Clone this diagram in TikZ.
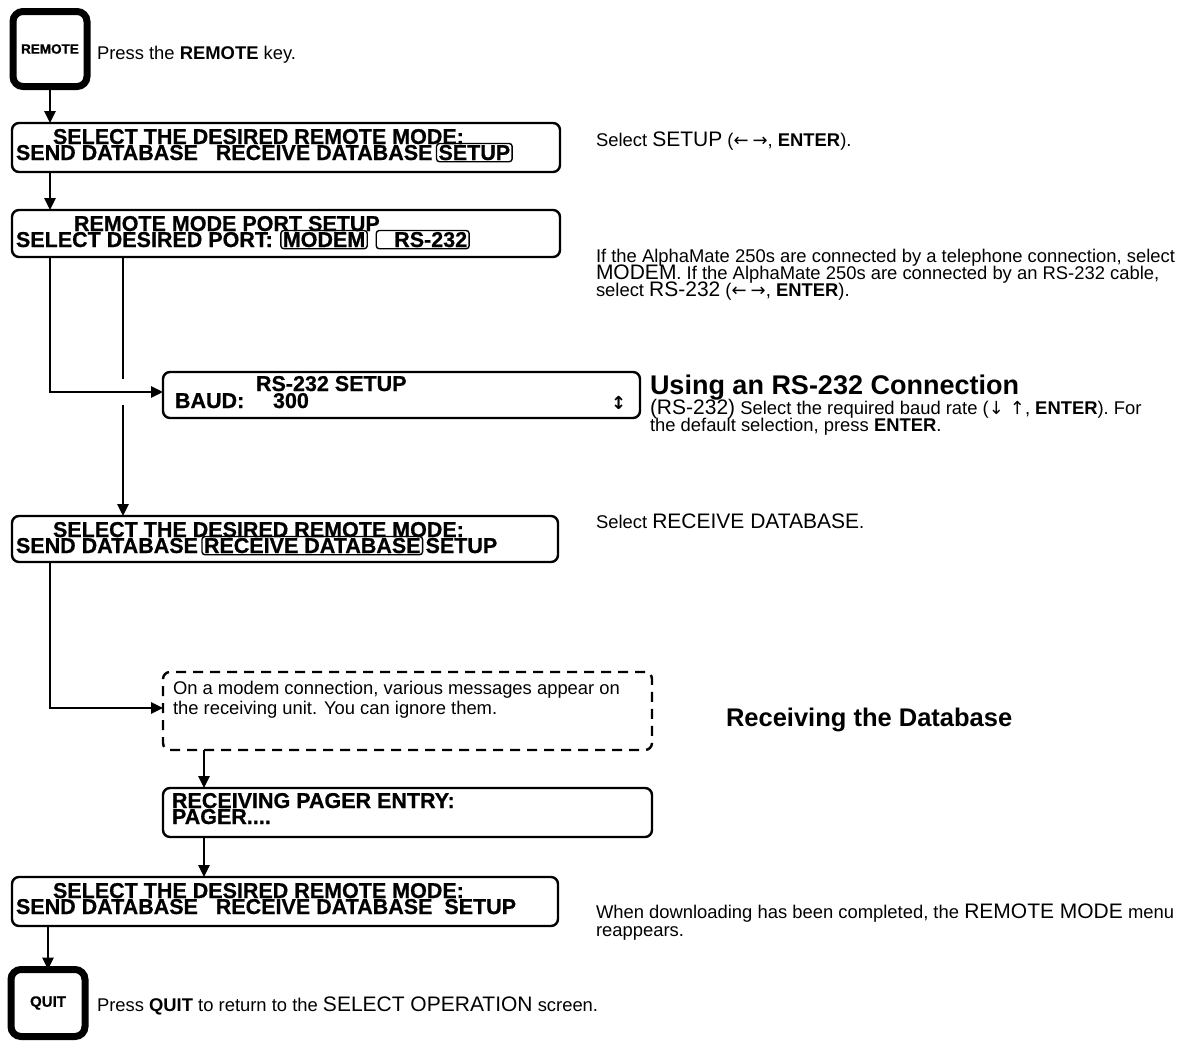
\documentclass[tikz,border=0pt]{standalone}
\usepackage{fontspec}
\setmainfont{Liberation Sans}
\newfontfamily\lcdfont{Liberation Sans Bold}[FakeBold=0.7]
\newfontfamily\arrowfont{DejaVu Sans}
\usetikzlibrary{positioning}
\usetikzlibrary{calc}
\usetikzlibrary{arrows.meta}

\tikzset{
	every node/.style={inner sep=0pt,outer sep=0pt},
	screen/.style={draw,line width=2.4pt,rounded corners=7pt,anchor=north west},
	dashbox/.style={screen,dash pattern=on 10pt off 7pt},
	lcd/.style={anchor=base west,font=\lcdfont\fontsize{21.5}{16}\selectfont},
	pick/.style={draw,line width=1.4pt,rounded corners=3pt,inner xsep=2pt,inner ysep=1.5pt,anchor=base west,font=\lcdfont\fontsize{21.5}{16}\selectfont},
	keycap/.style={draw,line width=7pt,rounded corners=10pt,minimum width=74pt,minimum height=75pt,font=\lcdfont\fontsize{13.5}{13.5}\selectfont},
	note/.style={anchor=base west,font=\fontsize{18.4}{17.5}\selectfont},
	flow/.style={line width=2.6pt,-{Triangle[length=12pt,width=11pt]}},
}
\newcommand{\lcdword}[1]{{\fontsize{21}{17.5}\selectfont #1}}
\newcommand{\keyarrows}[1]{{\arrowfont\fontsize{18}{18}\selectfont #1}}

\begin{document}
\begin{tikzpicture}[x=1pt,y=-1pt]

	% page.....................
	\path[use as bounding box,fill=white] (0,0) rectangle (1187,1042);

	% REMOTE key...................
	\node[keycap] (remote) at (50,49) {REMOTE};
	\node[note] (t0) at (97,59) {Press the \textbf{REMOTE} key.};

	% mode menu...................
	\node[screen,minimum width=548pt,minimum height=49pt] (s1) at (12,123) {};
	\node[lcd] (s1a) at (53,144) {SELECT THE DESIRED REMOTE MODE:};
	\node[lcd] (s1b) at (16,160) {SEND DATABASE\ \ \ RECEIVE DATABASE};
	\node[pick,right=4pt of s1b.base east,anchor=base west] (s1c) {SETUP\hspace{24pt}};
	\node[note] (t1) at (596,146) {Select \lcdword{SETUP} (\keyarrows{←\hspace{4pt}→}, \textbf{ENTER}).};

	% port menu...................
	\node[screen,minimum width=548pt,minimum height=47pt] (s2) at (12,210) {};
	\node[lcd] (s2a) at (74,231) {REMOTE MODE PORT SETUP};
	\node[lcd] (s2b) at (16,247) {SELECT DESIRED PORT:};
	\node[pick,right=8pt of s2b.base east,anchor=base west] (s2c) {MODEM};
	\node[pick,right=9pt of s2c.base east,anchor=base west] (s2d) {\hspace{16pt}RS-232};
	\node[note] (t2a) at (596,262) {If the AlphaMate 250s are connected by a telephone connection, select};
	\node[note] (t2b) at (596,279) {\lcdword{MODEM}. If the AlphaMate 250s are connected by an RS-232 cable,};
	\node[note] (t2c) at (596,296) {select \lcdword{RS-232} (\keyarrows{←\hspace{4pt}→}, \textbf{ENTER}).};

	% RS-232 setup...................
	\node[screen,minimum width=477pt,minimum height=46pt] (rs) at (163,372) {};
	\node[lcd] (rsa) at (256,391) {RS-232 SETUP};
	\node[lcd] (rsb) at (175,408) {BAUD:};
	\node[lcd] (rsc) at (273,408) {300};
	\node[anchor=base west,font=\arrowfont\bfseries\fontsize{18}{18}\selectfont] (rsd) at (611,409) {↕};
	\node[note,font=\bfseries\fontsize{27}{27}\selectfont] (h1) at (650,394) {Using an RS-232 Connection};
	\node[note] (t3a) at (650,414) {\lcdword{(RS-232)} Select the required baud rate (\keyarrows{↓\hspace{6pt}↑}, \textbf{ENTER}). For};
	\node[note] (t3b) at (650,431) {the default selection, press \textbf{ENTER}.};

	% mode menu again...................
	\node[screen,minimum width=546pt,minimum height=46pt] (s3) at (12,516) {};
	\node[lcd] (s3a) at (53,537) {SELECT THE DESIRED REMOTE MODE:};
	\node[lcd] (s3b) at (16,553) {SEND DATABASE};
	\node[pick,right=4pt of s3b.base east,anchor=base west] (s3c) {RECEIVE DATABASE\hspace{6pt}};
	\node[lcd,right=3pt of s3c.base east,anchor=base west] (s3d) {SETUP};
	\node[note] (t4) at (596,528) {Select \lcdword{RECEIVE DATABASE}.};

	% modem messages...................
	\node[dashbox,minimum width=489pt,minimum height=78pt] (msg) at (163,672) {};
	\node[note] (msga) at (173,694) {On a modem connection, various messages appear on};
	\node[note] (msgb) at (173,714) {the receiving unit. You can ignore them.};
	\node[note,font=\bfseries\fontsize{25.5}{25.5}\selectfont] (h2) at (726,726) {Receiving the Database};

	% receiving...................
	\node[screen,minimum width=489pt,minimum height=49pt] (s4) at (163,788) {};
	\node[lcd] (s4a) at (172,808) {RECEIVING PAGER ENTRY:};
	\node[lcd] (s4b) at (172,824) {PAGER....};

	% back to mode menu...................
	\node[screen,minimum width=546pt,minimum height=49pt] (s5) at (12,877) {};
	\node[lcd] (s5a) at (53,898) {SELECT THE DESIRED REMOTE MODE:};
	\node[lcd] (s5b) at (16,914) {SEND DATABASE\ \ \ RECEIVE DATABASE\ \ SETUP};
	\node[note] (t5a) at (596,918) {When downloading has been completed, the \lcdword{REMOTE MODE} menu};
	\node[note] (t5b) at (596,936) {reappears.};

	% QUIT key...................
	\node[keycap,minimum height=67pt,font=\lcdfont\fontsize{15}{15}\selectfont] (quit) at (48,1003) {QUIT};
	\node[note] (t6) at (97,1011) {Press \textbf{QUIT} to return to the \lcdword{SELECT OPERATION} screen.};

	% connectors...................
	\coordinate (tap) at ([xshift=111pt]s2.south west);
	\coordinate (gap) at ([yshift=3pt]tap |- rs.west);
	\draw[flow] (remote.south) -- (remote.south |- s1.north);
	\draw[flow] (remote.south |- s1.south) -- (remote.south |- s2.north);
	\draw[flow] (remote.south |- s2.south) |- (rs.west |- gap);
	\draw[line width=2.6pt] (tap) -- ([yshift=13pt]gap);
	\draw[flow] ([yshift=-13pt]gap) -- (tap |- s3.north);
	\draw[flow] (remote.south |- s3.south) |- ([yshift=3pt]msg.west);
	\draw[flow] ([xshift=41pt]msg.south west) -- ([xshift=41pt]msg.south west |- s4.north);
	\draw[flow] ([xshift=41pt]s4.south west) -- ([xshift=41pt]s4.south west |- s5.north);
	\draw[flow] (quit.north |- s5.south) -- (quit.north);

\end{tikzpicture}
\end{document}
